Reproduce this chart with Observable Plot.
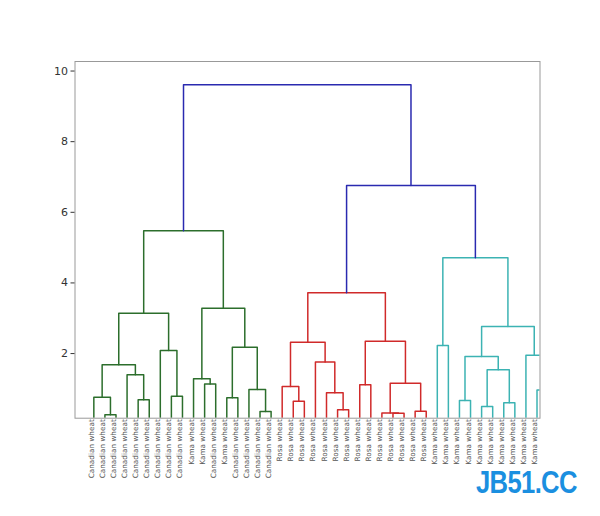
<!DOCTYPE html>
<html><head><meta charset="utf-8">
<script src="https://cdn.jsdelivr.net/npm/d3@7"></script>
<script src="https://cdn.jsdelivr.net/npm/@observablehq/plot@0.6"></script>
<style>
body{margin:0;background:#fff;}
#wrap{position:relative;width:600px;height:516px;overflow:hidden;}
#wm{position:absolute;left:476px;top:466px;font-family:"Liberation Sans",Arial,sans-serif;font-weight:bold;font-size:32px;line-height:32px;color:#1b8fe0;transform-origin:0 0;transform:scaleX(0.8);letter-spacing:-0.8px;white-space:nowrap;}
</style></head><body><div id="wrap"><div id="chart"></div><div id="wm">JB51.CC</div></div>
<script>
// Leaf labels in dendrogram order
const leafLabels = [
  "Canadian wheat","Canadian wheat","Canadian wheat","Canadian wheat","Canadian wheat",
  "Canadian wheat","Canadian wheat","Canadian wheat","Canadian wheat",
  "Kama wheat","Kama wheat","Canadian wheat","Kama wheat",
  "Canadian wheat","Canadian wheat","Canadian wheat","Canadian wheat",
  "Rosa wheat","Rosa wheat","Rosa wheat","Rosa wheat","Rosa wheat","Rosa wheat","Rosa wheat",
  "Rosa wheat","Rosa wheat","Rosa wheat","Rosa wheat","Rosa wheat","Rosa wheat","Rosa wheat",
  "Kama wheat","Kama wheat","Kama wheat","Kama wheat","Kama wheat","Kama wheat",
  "Kama wheat","Kama wheat","Kama wheat","Kama wheat","Kama wheat"
];
// Linkage (ids < 42 are leaves, id 42+k is merge k)
const linkLeft   = [1, 0, 4, 3, 43, 7, 6, 46, 10, 9, 12, 15, 14, 52, 51, 49,
                    18, 17, 22, 21, 20, 59, 24, 27, 26, 29, 66, 64, 63,
                    31, 33, 35, 37, 73, 72, 40, 39, 76, 71, 70, 57];
const linkRight  = [2, 42, 5, 44, 45, 8, 47, 48, 11, 50, 13, 16, 53, 54, 55, 56,
                    19, 58, 23, 60, 61, 62, 25, 28, 65, 30, 67, 68, 69,
                    32, 34, 36, 38, 74, 75, 41, 77, 78, 79, 80, 81];
const linkHeight = [0.27, 0.76, 0.69, 1.40, 1.68, 0.79, 2.09, 3.14, 1.14, 1.29, 0.75, 0.36, 0.98, 2.18, 3.28, 5.48,
                    0.65, 1.07, 0.41, 0.89, 1.76, 2.32, 1.12, 0.31, 0.32, 0.37, 1.16, 2.35, 3.72,
                    2.23, 0.67, 0.50, 0.61, 1.54, 1.92, 0.97, 1.95, 2.77, 4.71, 6.76, 9.61];
const yTicks = [2, 4, 6, 8, 10];
const clusterColors = ["#2c6e2c", "#d02a2a", "#3cb3b3"];
const aboveColor = "#2a2ab0";

const n = leafLabels.length;
const pos = leafLabels.map((_, i) => i);
const hgt = leafLabels.map(() => 0);
const children = [];
linkLeft.forEach((a, k) => {
  const b = linkRight[k];
  pos.push((pos[a] + pos[b]) / 2);
  hgt.push(linkHeight[k]);
  children.push([a, b]);
});
const threshold = 0.7 * d3.max(linkHeight);
const color = new Array(n + linkLeft.length).fill(null);
let ci = 0;
function paint(id, c) { color[id] = c; if (id >= n) { const [a, b] = children[id - n]; paint(a, c); paint(b, c); } }
function walk(id) {
  if (id < n) return;
  if (hgt[id] > threshold) { color[id] = aboveColor; const [a, b] = children[id - n]; walk(a); walk(b); }
  else paint(id, clusterColors[ci++ % clusterColors.length]);
}
walk(n + linkLeft.length - 1);

const rows = [];
children.forEach(([a, b], k) => {
  const id = n + k, c = color[id], h = hgt[id];
  rows.push({g: k, c, x: pos[a], y: hgt[a]});
  rows.push({g: k, c, x: pos[a], y: h});
  rows.push({g: k, c, x: pos[b], y: h});
  rows.push({g: k, c, x: pos[b], y: hgt[b]});
});

const xDomain = [-1.7, 40.27];
const leafIdx = d3.range(n).filter(i => i >= xDomain[0] && i <= xDomain[1]);

const chart = Plot.plot({
  width: 600, height: 516,
  marginLeft: 74.5, marginRight: 60.5, marginTop: 61, marginBottom: 98.3,
  x: {domain: xDomain, axis: null},
  y: {domain: [0.17, 10.27], axis: null},
  style: {fontFamily: "DejaVu Sans", background: "#fff"},
  marks: [
    Plot.line(rows, {x: "x", y: "y", z: "g", stroke: "c", strokeWidth: 1.5, clip: true}),
    Plot.frame({stroke: "#999", strokeWidth: 1}),
    Plot.axisY(yTicks, {tickSize: 4, tickPadding: 3, fontSize: 11, color: "#333", label: null}),
    Plot.text(leafIdx, {x: d => d, text: d => leafLabels[d], frameAnchor: "bottom", rotate: -90,
      textAnchor: "end", dy: 1, fontSize: 7.3, fill: "#555"})
  ]
});
document.getElementById("chart").appendChild(chart);
</script>
</body></html>
